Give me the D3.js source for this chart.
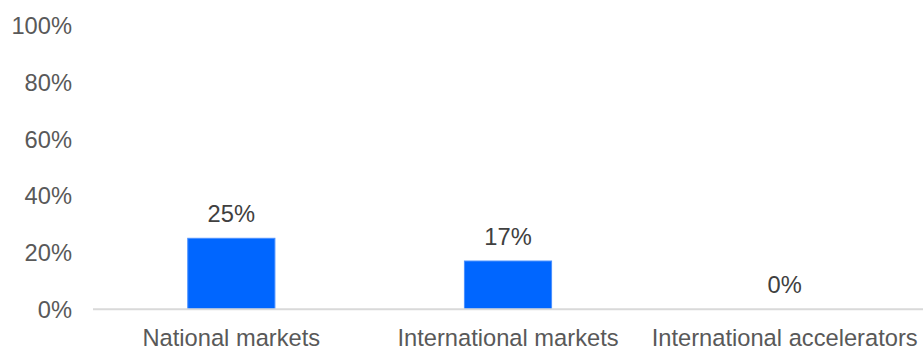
<!DOCTYPE html>
<html>
<head>
<meta charset="utf-8">
<script src="https://cdn.jsdelivr.net/npm/d3@7/dist/d3.min.js"></script>
<style>
  html, body { margin: 0; padding: 0; background: #ffffff; }
  svg { display: block; font-family: "Liberation Sans", Arial, sans-serif; }
</style>
</head>
<body>
<svg id="chart" width="923" height="350"></svg>
<script>
// Share of respondents per channel
const categories = ["National markets", "International markets", "International accelerators"];
const values = [25, 17, 0];
const yTicks = [0, 20, 40, 60, 80, 100];

const width = 923, height = 350;
const margin = { top: 25.3, right: 0, bottom: 40.7, left: 93 };
const fontSize = "23.7px";

const svg = d3.select("#chart");

const x = d3.scaleBand()
  .domain(categories)
  .range([margin.left, width - margin.right])
  .paddingInner(0.685)
  .paddingOuter(0.3425);

const y = d3.scaleLinear()
  .domain([0, 100])
  .range([height - margin.bottom, margin.top]);

// Y axis labels (no axis line, no gridlines)
const yAxis = d3.axisLeft(y)
  .tickValues(yTicks)
  .tickFormat(d => d + "%")
  .tickSize(0)
  .tickPadding(21);

svg.append("g")
  .attr("transform", `translate(${margin.left},0)`)
  .call(yAxis)
  .call(g => g.select(".domain").remove())
  .call(g => g.selectAll("text")
    .attr("fill", "#595959")
    .attr("font-size", fontSize)
    .attr("font-family", "Liberation Sans, Arial, sans-serif")
    .attr("dy", "0.35em"));

// Bars
svg.append("g")
  .selectAll("rect")
  .data(values)
  .join("rect")
  .attr("x", (d, i) => x(categories[i]))
  .attr("width", x.bandwidth())
  .attr("y", d => y(d))
  .attr("height", d => y(0) - y(d))
  .attr("fill", "#0066ff")
  .attr("stroke", "#4a90ff")
  .attr("stroke-width", 1);

// Baseline
svg.append("line")
  .attr("x1", margin.left)
  .attr("x2", width)
  .attr("y1", y(0))
  .attr("y2", y(0))
  .attr("stroke", "#d9d9d9")
  .attr("stroke-width", 2);

// Value labels
svg.append("g")
  .selectAll("text")
  .data(values)
  .join("text")
  .attr("x", (d, i) => x(categories[i]) + x.bandwidth() / 2)
  .attr("y", d => y(d) - 16)
  .attr("text-anchor", "middle")
  .attr("fill", "#404040")
  .attr("font-size", fontSize)
  .text(d => d + "%");

// Category labels
const xAxis = d3.axisBottom(x).tickSize(0).tickPadding(20);
svg.append("g")
  .attr("transform", `translate(0,${y(0)})`)
  .call(xAxis)
  .call(g => g.select(".domain").remove())
  .call(g => g.selectAll("text")
    .attr("fill", "#595959")
    .attr("font-size", fontSize)
    .attr("font-family", "Liberation Sans, Arial, sans-serif"));
</script>
</body>
</html>
